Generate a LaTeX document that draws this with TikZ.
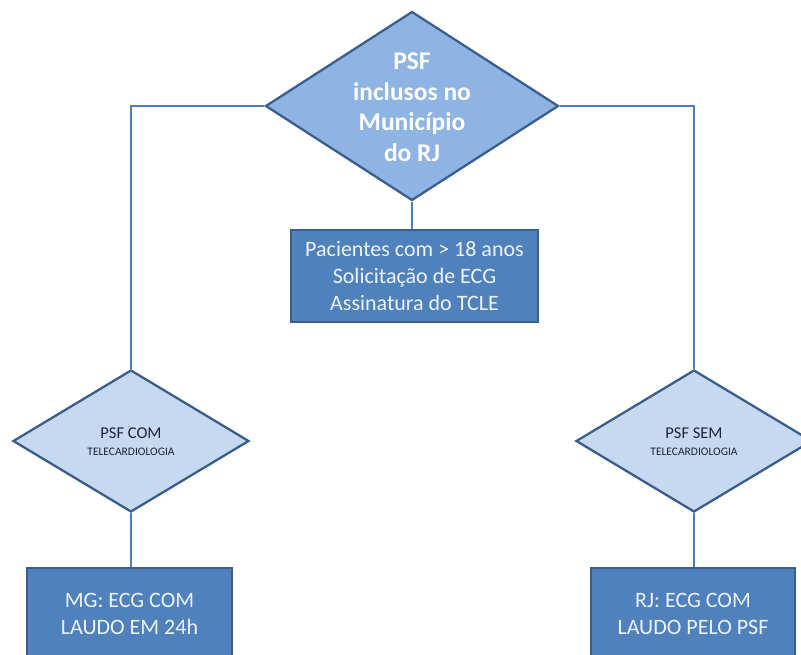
\documentclass[tikz,border=0pt]{standalone}
\usepackage{fontspec}
\setmainfont{Carlito}
\usetikzlibrary{shapes.geometric}
\definecolor{topfill}{HTML}{8EB4E3}
\definecolor{edge}{HTML}{3B5E8C}
\definecolor{boxfill}{HTML}{4F81BD}
\definecolor{smallfill}{HTML}{C6D9F1}
\definecolor{wire}{HTML}{4A7EBB}
\definecolor{lighttext}{HTML}{EEF3FA}
\definecolor{darktext}{HTML}{1E2433}
\tikzset{
  bigdiamond/.style={diamond, draw=edge, fill=topfill, line width=2.3pt, inner sep=0pt,
    minimum width=293pt, minimum height=189pt},
  smalldiamond/.style={diamond, draw=edge, fill=smallfill, line width=2.3pt, inner sep=0pt,
    minimum width=236pt, minimum height=142pt},
  bluebox/.style={rectangle, draw=edge, fill=boxfill, line width=2.3pt, inner sep=0pt,
    text=lighttext, align=center, font=\fontsize{22}{27}\selectfont},
  wireline/.style={draw=wire, line width=2.5pt},
  headtext/.style={text=darktext, font=\fontsize{16.5}{18}\selectfont, inner sep=1pt},
  subtext/.style={text=darktext, font=\fontsize{11.5}{12}\selectfont, inner sep=1pt},
}
\begin{document}
\begin{tikzpicture}[x=1pt,y=-1pt]
\useasboundingbox (0,0) rectangle (801,654);
% top decision
\node[bigdiamond] (top) at (412,106) {};
\node[text=white, align=center, font=\bfseries\fontsize{25.5}{30.5}\selectfont] (toptext) at (412,107)
  {PSF\\inclusos no\\Município\\do RJ};
% central box
\node[bluebox, minimum width=247pt, minimum height=92pt] (mid) at (414.5,276)
  {\rule{0pt}{4pt}Pacientes com > 18 anos\\Solicitação de ECG\\Assinatura do TCLE};
% side decisions
\node[smalldiamond] (ld) at (131,441) {};
\node[headtext] (ldhead) at (131,433) {PSF COM};
\node[subtext] (ldsub) at (131,452) {TELECARDIOLOGIA};
\node[smalldiamond] (rd) at (694,441) {};
\node[headtext] (rdhead) at (694,433) {PSF SEM};
\node[subtext] (rdsub) at (694,452) {TELECARDIOLOGIA};
% bottom boxes
\node[bluebox, minimum width=205pt, minimum height=91pt] (lb) at (129.5,613.5)
  {MG: ECG COM\\LAUDO EM 24h};
\node[bluebox, minimum width=204pt, minimum height=91pt] (rb) at (693,613.5)
  {RJ: ECG COM\\LAUDO PELO PSF};
% connectors
\draw[wireline] (top.west) -| (ld.north);
\draw[wireline] (top.east) -| (rd.north);
\draw[wireline] (top.south) -- (top.south |- mid.north);
\draw[wireline] (ld.south) -- (ld.south |- lb.north);
\draw[wireline] (rd.south) -- (rd.south |- rb.north);
\end{tikzpicture}
\end{document}
